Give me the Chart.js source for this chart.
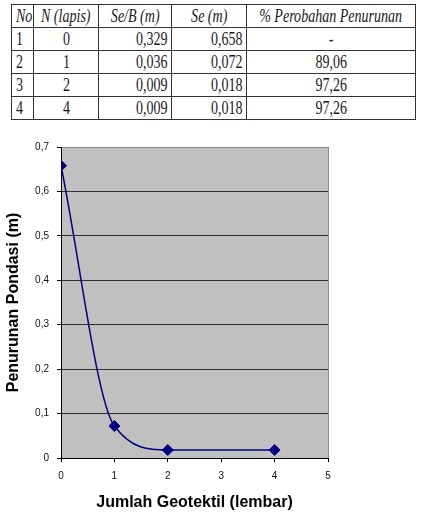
<!DOCTYPE html>
<html>
<head>
<meta charset="utf-8">
<script src="https://cdn.jsdelivr.net/npm/chart.js@4/dist/chart.umd.min.js"></script>
<style>
  body { margin: 0; background: #fff; width: 423px; height: 513px; overflow: hidden; position: relative; }
  #tabel { position: absolute; left: 11px; top: 4px; width: 404px; border-collapse: collapse; table-layout: fixed;
           font-family: "Liberation Serif", serif; font-size: 18px; color: #1a1a1a; }
  #tabel td { border: 1px solid #333; padding: 0 4px; height: 22px; line-height: 20px; white-space: nowrap; overflow: visible; }
  .t { display: inline-block; transform: scaleX(0.78); }
  .kiri { text-align: left; } .kiri .t { transform-origin: left center; }
  .tengah { text-align: center; } .tengah .t { transform-origin: center center; margin: 0 -30px; }
  .kanan { text-align: right; } .kanan .t { transform-origin: right center; }
  .judul .t { font-style: italic; }
  #wadah { position: absolute; left: 0; top: 130px; width: 423px; height: 383px; }
</style>
</head>
<body>
<table id="tabel">
  <colgroup><col style="width:22px"><col style="width:65px"><col style="width:73px"><col style="width:75px"><col style="width:169px"></colgroup>
  <tbody id="isiTabel"></tbody>
</table>
<div id="wadah"><canvas id="grafikPenurunan" width="423" height="383"></canvas></div>
<script>
// data dari tabel
const judulKolom = ['No', 'N (lapis)', 'Se/B (m)', 'Se (m)', '% Perobahan Penurunan']
const nomor = [1, 2, 3, 4]
const nLapis = [0, 1, 2, 4]
const seB = [0.329, 0.036, 0.009, 0.009]
const se = [0.658, 0.072, 0.018, 0.018]
const perubahan = [null, 89.06, 97.26, 97.26]

function koma(angka, digit) {
  return angka.toFixed(digit).replace('.', ',')
}

function sel(teks, kelas) {
  return '<td class="' + kelas + '"><span class="t">' + teks + '</span></td>'
}

// isi tabel
let html = '<tr class="judul">' + sel(judulKolom[0], 'kiri') + sel(judulKolom[1], 'tengah') + sel(judulKolom[2], 'tengah') +
  sel(judulKolom[3], 'tengah') + sel(judulKolom[4], 'tengah') + '</tr>'
nomor.forEach((no, i) => {
  html += '<tr>' + sel(no, 'kiri') + sel(nLapis[i], 'tengah') + sel(koma(seB[i], 3), 'kanan') +
    sel(koma(se[i], 3), 'kanan') + sel(perubahan[i] === null ? '-' : koma(perubahan[i], 2), 'tengah') + '</tr>'
})
document.getElementById('isiTabel').innerHTML = html

// latar abu-abu area plot + garis tepi kanan
const latarPlot = {
  id: 'latarPlot',
  beforeDraw(chart) {
    const { ctx, chartArea: a } = chart
    ctx.save()
    ctx.fillStyle = '#c0c0c0'
    ctx.fillRect(a.left, a.top, a.right - a.left, a.bottom - a.top)
    ctx.strokeStyle = '#8c8c8c'
    ctx.lineWidth = 1
    ctx.beginPath()
    ctx.moveTo(a.right + 0.5, a.top)
    ctx.lineTo(a.right + 0.5, a.bottom)
    ctx.stroke()
    ctx.restore()
  }
}

const hurufTick = { family: 'Liberation Sans, Arial, sans-serif', size: 10 }
const hurufJudul = { family: 'Liberation Sans, Arial, sans-serif', size: 16, weight: 'bold' }

const grafik = new Chart(document.getElementById('grafikPenurunan'), {
  type: 'scatter',
  data: {
    datasets: [{
      label: 'Se (m)',
      data: nLapis.map((n, i) => ({ x: n, y: se[i] })),
      showLine: true,
      borderColor: '#000080',
      backgroundColor: '#000080',
      borderWidth: 1.5,
      cubicInterpolationMode: 'monotone',
      pointStyle: 'rectRot',
      pointRadius: 5.5,
      pointBorderWidth: 1
    }]
  },
  options: {
    responsive: false,
    animation: false,
    layout: { padding: { left: 0, top: 17, right: 95, bottom: 0 } },
    plugins: { legend: { display: false }, tooltip: { enabled: false } },
    scales: {
      x: {
        type: 'linear',
        min: 0,
        max: 5,
        ticks: { stepSize: 1, font: hurufTick, color: '#111', padding: 8 },
        grid: { drawOnChartArea: false, color: '#000', tickColor: '#000', tickLength: 4 },
        border: { color: '#000', width: 1 },
        title: { display: true, text: 'Jumlah Geotektil (lembar)', font: hurufJudul, color: '#000', padding: { top: 0, bottom: 1 } },
        afterFit(skala) { skala.height = 55 }
      },
      y: {
        min: 0,
        max: 0.7,
        ticks: {
          stepSize: 0.1, font: hurufTick, color: '#111', padding: 8,
          callback: v => v === 0 ? '0' : koma(v, 1)
        },
        grid: {
          color: ctx => Math.abs(ctx.tick.value - 0.7) < 1e-6 ? '#8c8c8c' : '#303030',
          tickColor: '#000',
          tickLength: 4
        },
        border: { color: '#000', width: 1 },
        title: { display: true, text: 'Penurunan Pondasi (m)', font: hurufJudul, color: '#000', padding: { top: 3.5, bottom: 0 } },
        afterFit(skala) { skala.width = 61 }
      }
    }
  },
  plugins: [latarPlot]
})
</script>
</body>
</html>
